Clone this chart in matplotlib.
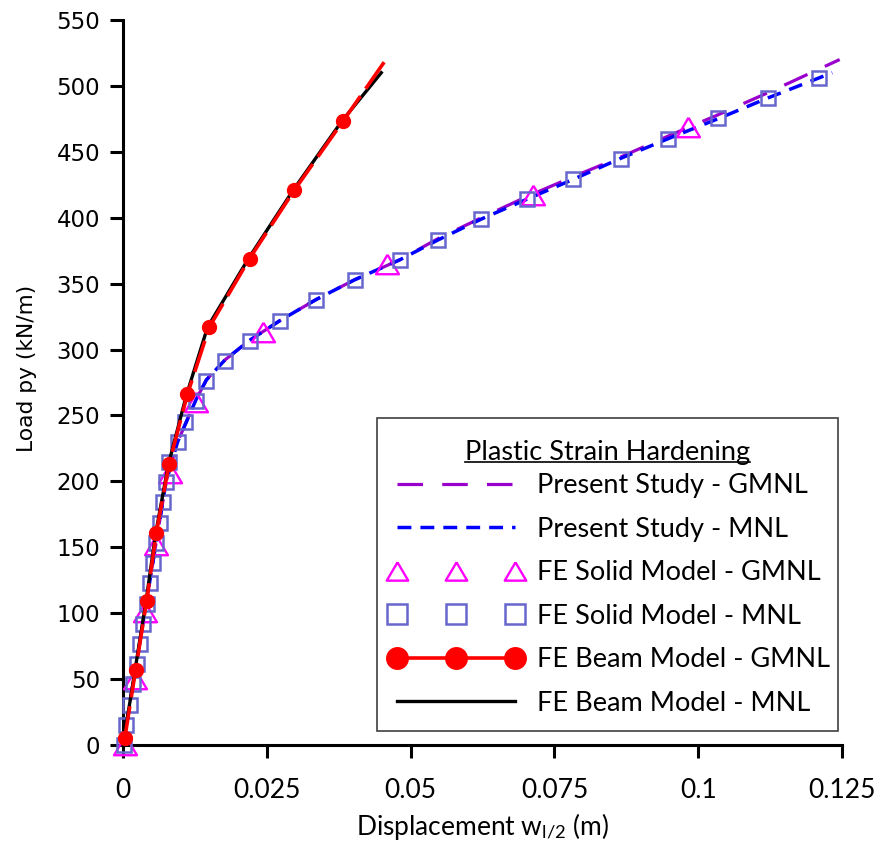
import matplotlib
matplotlib.use('Agg')
import matplotlib.pyplot as plt
from matplotlib.lines import Line2D
from matplotlib.patches import Rectangle

plt.rcParams['font.family'] = ['Lato', 'DejaVu Sans']
plt.rcParams['mathtext.fontset'] = 'custom'
plt.rcParams['mathtext.rm'] = 'Lato'
plt.rcParams['mathtext.it'] = 'Lato:italic'

# ---------------- data ----------------
x_ticks = [0, 0.025, 0.05, 0.075, 0.1, 0.125]
x_tick_labels = ['0', '0.025', '0.05', '0.075', '0.1', '0.125']
y_ticks = [0, 50, 100, 150, 200, 250, 300, 350, 400, 450, 500, 550]

# Present Study - GMNL
ps_gmnl_x = [0, 0.0075, 0.0095, 0.0127, 0.0145, 0.0177, 0.0220, 0.0273, 0.0336, 0.0403,
             0.0481, 0.0547, 0.0623, 0.0702, 0.0782, 0.0865, 0.0948, 0.1034, 0.1122, 0.1246]
ps_gmnl_y = [0, 200, 230, 262, 277, 292, 307, 322, 338, 353,
             368, 384, 400, 416, 431, 446, 462, 478, 495, 520]

# Present Study - MNL
ps_mnl_x = [0, 0.0075, 0.0095, 0.0127, 0.0145, 0.0177, 0.0220, 0.0273, 0.0336, 0.0403,
            0.0481, 0.0547, 0.0623, 0.0702, 0.0782, 0.0865, 0.0948, 0.1034, 0.1122, 0.1233]
ps_mnl_y = [0, 200, 230, 262, 277, 292, 307, 322, 338, 353,
            368, 383, 399, 414, 429, 445, 460, 475, 491, 510]

# FE Solid Model - GMNL (triangles)
sol_gmnl_x = [0.0003, 0.0021, 0.0038, 0.0057, 0.0082, 0.0127, 0.0244, 0.0459, 0.0712, 0.0983]
sol_gmnl_y = [0, 50, 101, 152, 206, 260, 313, 365, 417, 469]

# FE Solid Model - MNL (squares)
sol_mnl_x = [0.0002, 0.0006, 0.0012, 0.0018, 0.0024, 0.0029, 0.0035, 0.0041, 0.0047, 0.0052,
             0.0058, 0.0064, 0.0070, 0.0075, 0.0080, 0.0095, 0.0108, 0.0127, 0.0145, 0.0177,
             0.0220, 0.0273, 0.0336, 0.0403, 0.0481, 0.0547, 0.0623, 0.0702, 0.0782, 0.0865,
             0.0948, 0.1034, 0.1122, 0.1210]
sol_mnl_y = [0, 15.3, 30.7, 46, 61.3, 76.7, 92, 107.3, 122.7, 138,
             153.3, 168.7, 184, 199.3, 214.7, 230, 245.3, 260.7, 276, 291.3,
             306.7, 322, 337.3, 352.7, 368, 383.3, 398.7, 414, 429.3, 444.7,
             460, 475.3, 490.7, 506]

# FE Beam Model - GMNL (circles; last point is line end without marker)
beam_gmnl_x = [0.0003, 0.0022, 0.0041, 0.0058, 0.0080, 0.0112, 0.0150, 0.0220, 0.0298, 0.0382, 0.0454]
beam_gmnl_y = [5, 57, 109, 161, 213, 266, 317, 369, 421, 473, 518]

# FE Beam Model - MNL
beam_mnl_x = [0, 0.0021, 0.0040, 0.0057, 0.0079, 0.0110, 0.0147, 0.0218, 0.0296, 0.0380, 0.0449]
beam_mnl_y = [0, 57, 109, 161, 213, 265, 317, 369, 421, 473, 510]

labels = ['Present Study - GMNL', 'Present Study - MNL', 'FE Solid Model - GMNL',
          'FE Solid Model - MNL', 'FE Beam Model - GMNL', 'FE Beam Model - MNL']
legend_title = 'Plastic Strain Hardening'

# ---------------- figure ----------------
W, H = 887, 846
AX_L, AX_R, AX_T, AX_B = 123, 842, 20, 745   # pixel box of the axes
fig = plt.figure(figsize=(W / 100, H / 100), dpi=100)
ax = fig.add_axes([AX_L / W, (H - AX_B) / H, (AX_R - AX_L) / W, (AX_B - AX_T) / H])


def ax_xy(px, py):
    """pixel (from top-left) -> axes fraction"""
    return (px - AX_L) / (AX_R - AX_L), (AX_B - py) / (AX_B - AX_T)


purple = '#9900CC'
blue = '#0000FF'
magenta = '#FF00FF'
sqcol = '#6666CC'
red = '#FF0000'
tri = [(0, 0.85), (-1, -0.85), (1, -0.85), (0, 0.85)]

l_pg, = ax.plot(ps_gmnl_x, ps_gmnl_y, color=purple, lw=2.3, dashes=(8, 6), zorder=2)
l_pm, = ax.plot(ps_mnl_x, ps_mnl_y, color=blue, lw=2.5, dashes=(4, 2.6), zorder=3)
ax.plot(sol_gmnl_x, sol_gmnl_y, ls='none', marker=tri, ms=16.5, mfc='none',
        mec=magenta, mew=1.7, zorder=4, clip_on=False)
ax.plot(sol_mnl_x, sol_mnl_y, ls='none', marker='s', ms=10.5, mfc='none',
        mec=sqcol, mew=1.8, zorder=4, clip_on=False)
l_blk, = ax.plot(beam_mnl_x, beam_mnl_y, color='black', lw=2.4, zorder=5)
ax.plot(beam_gmnl_x, beam_gmnl_y, color=red, lw=2.6, dashes=(9, 2.5), zorder=6)
ax.plot(beam_gmnl_x[:-1], beam_gmnl_y[:-1], ls='none', marker='o', ms=10, color=red,
        zorder=7, clip_on=False)

# legend proxies (legend markers are drawn larger, as in the reference)
l_tri = Line2D([], [], ls='none', marker=tri, ms=15.5, mfc='none', mec=magenta, mew=1.7)
l_sq = Line2D([], [], ls='none', marker='s', ms=14.5, mfc='none', mec=sqcol, mew=1.8)
l_red = Line2D([], [], color=red, lw=2.6, marker='o', ms=15.5)

ax.set_xlim(0, 0.125)
ax.set_ylim(0, 550)
ax.set_xticks(x_ticks)
ax.set_xticklabels(x_tick_labels)
ax.set_yticks(y_ticks)
ax.set_yticklabels([str(v) for v in y_ticks])

for s in ['top', 'right']:
    ax.spines[s].set_visible(False)
for s in ['left', 'bottom']:
    ax.spines[s].set_linewidth(2.2)

ax.tick_params(axis='both', direction='out', length=9.5, width=2.2)
ax.tick_params(axis='x', labelsize=19, pad=14)
ax.tick_params(axis='y', labelsize=16.5, pad=7)
for t in ax.get_yticklabels():
    t.set_fontfamily('DejaVu Sans')

ax.set_xlabel(r'Displacement w$_{\mathrm{l/2}}$ (m)', fontsize=19, labelpad=6)
ax.set_ylabel('Load py (kN/m)', fontsize=15.7, fontfamily='DejaVu Sans')
ax.yaxis.set_label_coords(-0.12, 0.52)

# legend frame
fx0, fy1 = ax_xy(377, 418)
fx1, fy0 = ax_xy(838, 731)
ax.add_patch(Rectangle((fx0, fy0), fx1 - fx0, fy1 - fy0, transform=ax.transAxes,
                       facecolor='white', edgecolor='#404040', lw=1.2, zorder=8))

# legend entries
lx, ly = ax_xy(389, 594.5)
leg = ax.legend([l_pg, l_pm, l_tri, l_sq, l_red, l_blk], labels,
                loc='center left', bbox_to_anchor=(lx, ly), bbox_transform=ax.transAxes,
                fontsize=19.5, numpoints=3, handlelength=4.95,
                handletextpad=0.52, borderpad=0, labelspacing=0.68,
                borderaxespad=0, frameon=False)
leg.set_zorder(9)

# legend title with underline
tx, ty = ax_xy(607.5, 460)
ttl = ax.text(tx, ty, legend_title, transform=ax.transAxes, ha='center', va='baseline',
              fontsize=19.5, zorder=10)

fig.canvas.draw()
r = fig.canvas.get_renderer()
bb = ttl.get_window_extent(r)
_, uy = ax_xy(0, 462.5)
ax.add_line(Line2D([(bb.x0 - AX_L) / (AX_R - AX_L), (bb.x1 - AX_L) / (AX_R - AX_L)], [uy, uy],
                   color='black', lw=1.2, transform=ax.transAxes, zorder=10))

fig.savefig('out.png', dpi=100)
